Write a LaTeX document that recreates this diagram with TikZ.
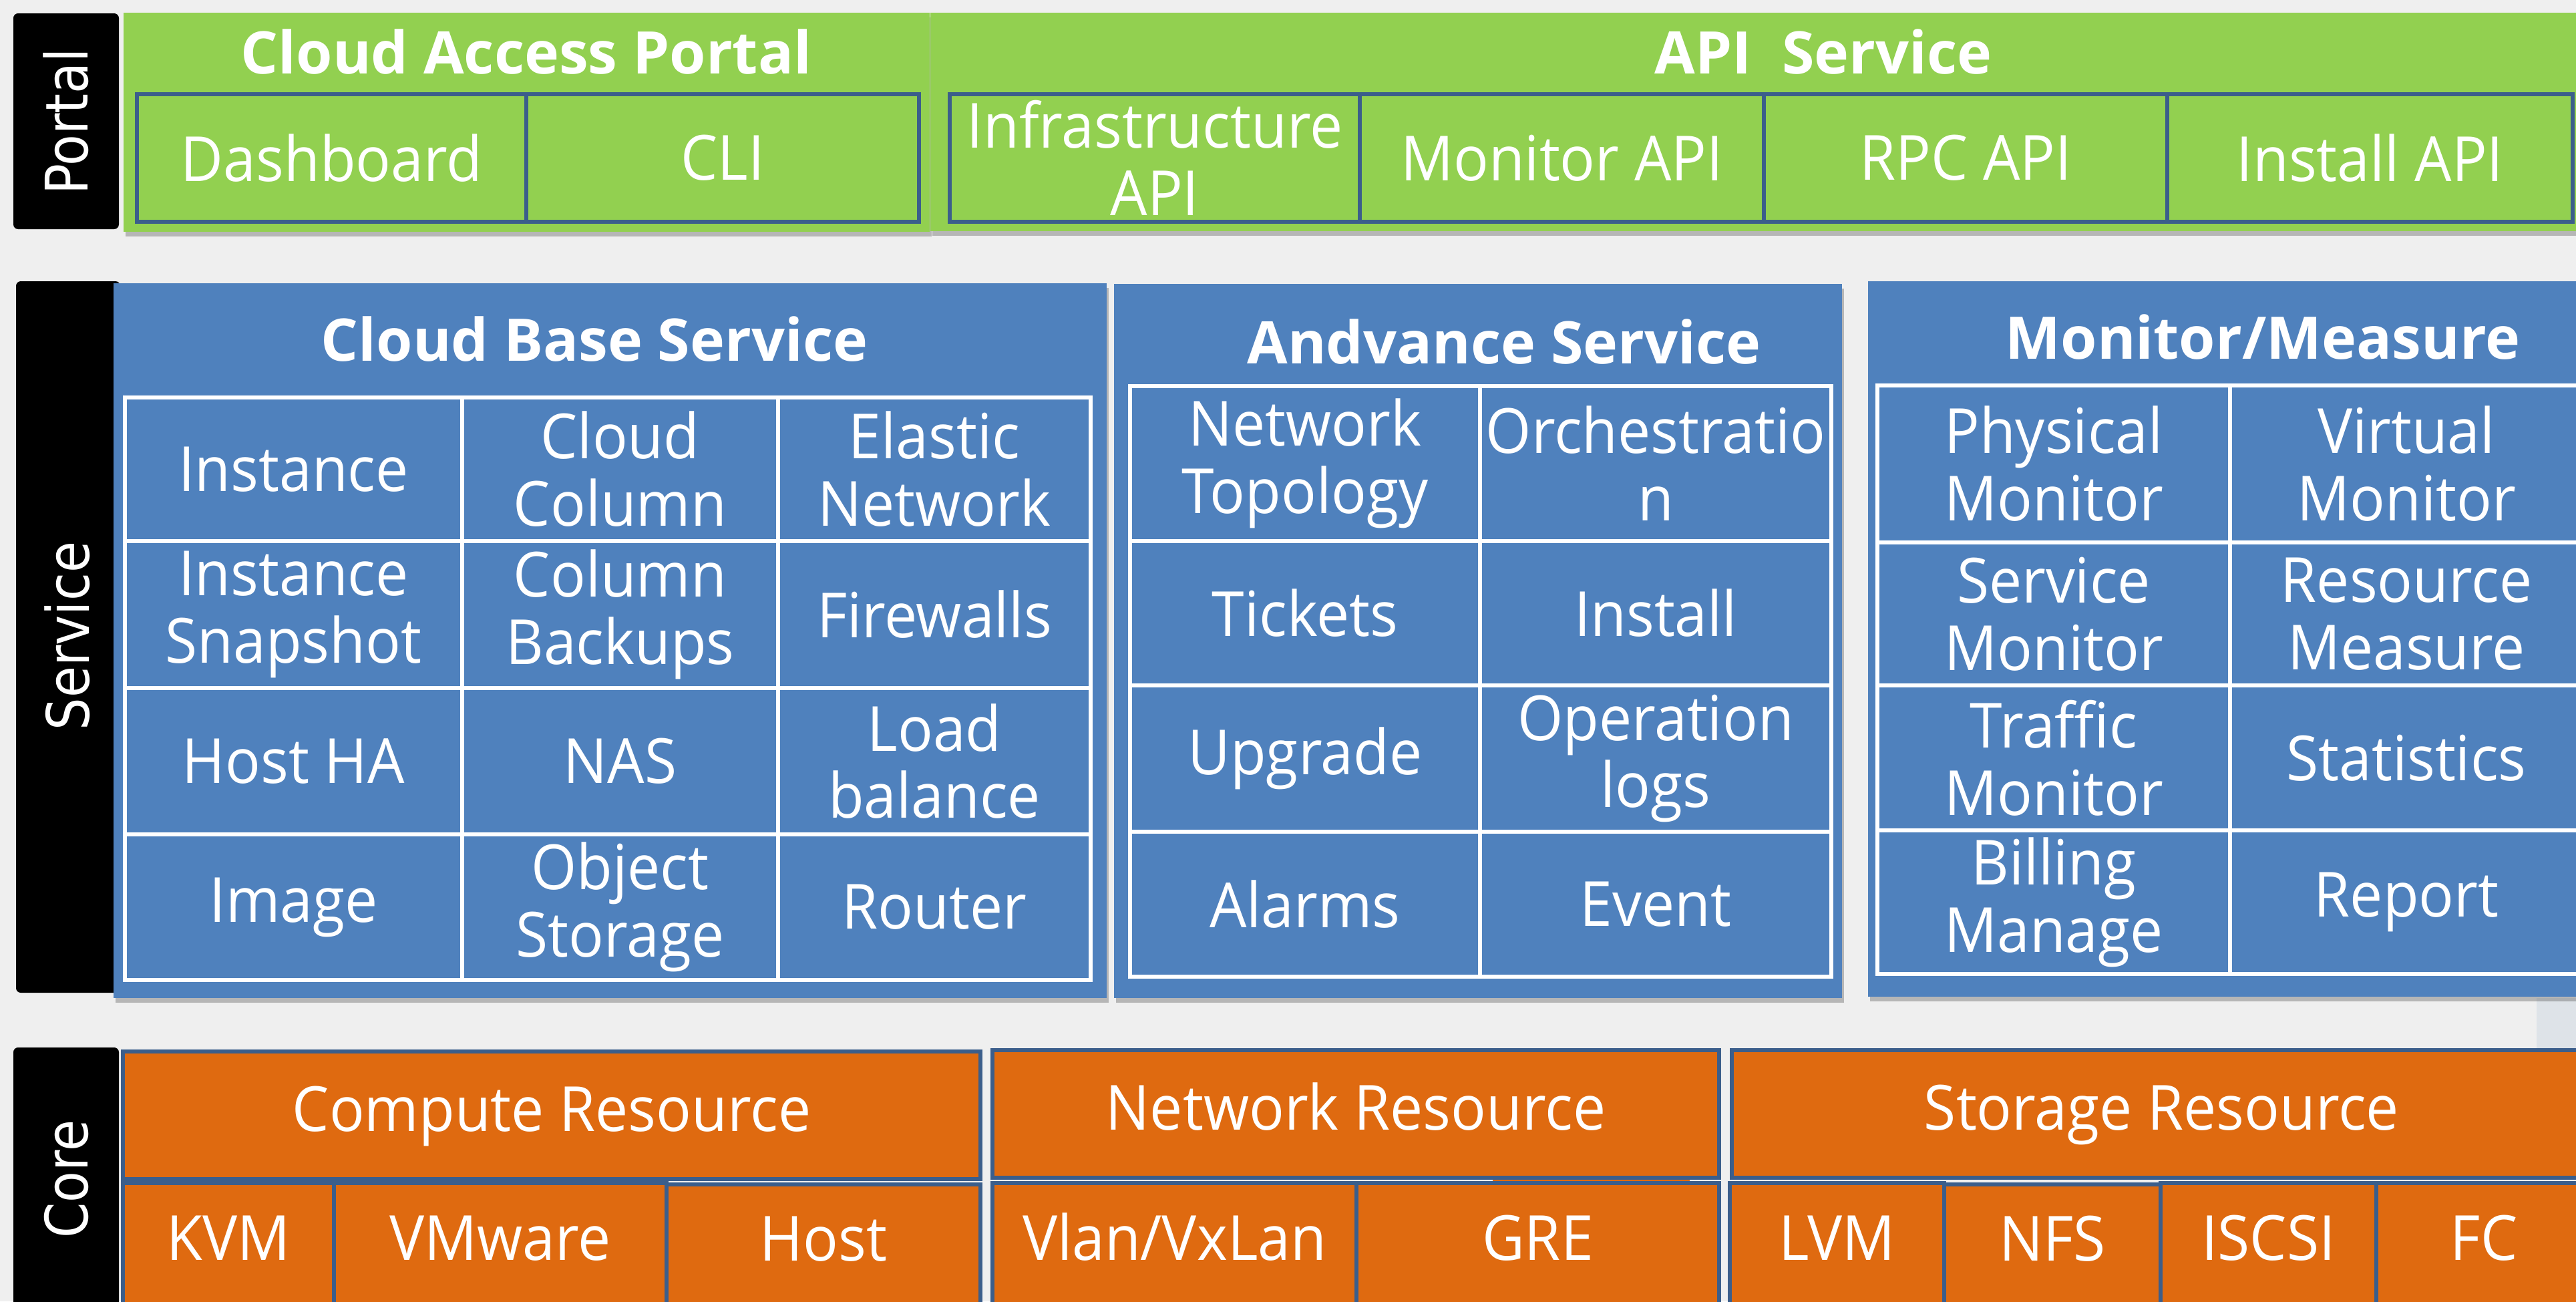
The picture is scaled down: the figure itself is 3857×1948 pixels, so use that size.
\documentclass[tikz,border=0pt]{standalone}
\usepackage{fontspec}
\setmainfont{Open Sans}
\newfontfamily\bodyfont{Open Sans}[FakeStretch=0.94]
\newfontfamily\sidefont{DejaVu Sans}[FakeStretch=0.87]
\usetikzlibrary{shadows}
\definecolor{bggray}{HTML}{EFEFEF}
\definecolor{pgreen}{HTML}{92D050}
\definecolor{sblue}{HTML}{4F81BD}
\definecolor{corange}{HTML}{DF6A10}
\definecolor{dkblue}{HTML}{3B5E8B}
\definecolor{strip}{HTML}{DEE3E8}
\newcommand\gcell[7]{%
  \node[#6, minimum width={(#4-#2)*0.01cm}, minimum height={(#5-#3)*0.01cm}] (#1) at ({(#2+#4)/2},{(#3+#5)/2}) {#7};}
\tikzset{
  boxshadow/.style={drop shadow={shadow xshift=0.03cm, shadow yshift=-0.07cm, opacity=0.35, fill=black!70}},
  sidelabel/.style={fill=black, rounded corners=2pt},
  sidetext/.style={text=white, rotate=90, font=\sidefont\fontsize{25}{30}\selectfont, inner sep=0pt},
  txt/.style={text=white, align=center, inner sep=0pt, font=\bodyfont\fontsize{26.5}{28.7}\selectfont},
  ttl/.style={text=white, anchor=base, inner sep=0pt, font=\bfseries\fontsize{25}{28.7}\selectfont},
  pcell/.style={txt, draw=dkblue, line width=1.7pt},
  scell/.style={txt, draw=white, line width=1.5pt},
  ccell/.style={txt, fill=corange, draw=dkblue, line width=1.7pt, text height=20pt, text depth=6.4pt},
}
\begin{document}
\begin{tikzpicture}[x=0.01cm,y=-0.01cm]
\useasboundingbox (0,0) rectangle (3857,1948);
\clip (0,0) rectangle (3857,1948);
\fill[bggray] (0,0) rectangle (3857,1948);
\fill[strip] (3798,1494) rectangle (3857,1572);

% ---------- Portal ----------
\fill[sidelabel] (20,20) rectangle (178,343);
\node[sidetext] (lportal) at (99,182) {Portal};
\fill[pgreen, boxshadow] (185,19) rectangle (1392,347);
\fill[pgreen, boxshadow] (1393,19) rectangle (3900,346);
\node[ttl] (tcap) at (788,110) {Cloud Access Portal};
\node[ttl] (tapi) at (2730,110) {API\ \ Service};
\gcell{dash}{205}{141}{788}{332}{pcell}{Dashboard}
\gcell{cli}{788}{141}{1376}{332}{pcell}{CLI}
\gcell{infra}{1422}{141}{2036}{332}{pcell}{Infrastructure\\API}
\gcell{monapi}{2036}{141}{2641}{332}{pcell}{Monitor API}
\gcell{rpc}{2641}{141}{3245}{332}{pcell}{RPC API}
\gcell{instapi}{3245}{141}{3852}{332}{pcell}{Install API}

% ---------- Service ----------
\fill[sidelabel] (24,421) rectangle (180,1486);
\node[sidetext] (lservice) at (101,952) {Service};
\fill[sblue, boxshadow] (170,424) rectangle (1657,1494);
\fill[sblue, boxshadow] (1668,425) rectangle (2758,1494);
\fill[sblue, boxshadow] (2797,421) rectangle (3900,1492);
\node[ttl] (tcbs) at (890,540) {Cloud Base Service};
\node[ttl] (tadv) at (2252,544) {Andvance Service};
\node[ttl] (tmon) at (3388,537) {Monitor/Measure};
% cloud base grid
\gcell{inst}{187}{595}{692}{810}{scell}{Instance}
\gcell{ccol}{692}{595}{1165}{810}{scell}{Cloud\\Column}
\gcell{enet}{1165}{595}{1633}{810}{scell}{Elastic\\Network}
\gcell{isnap}{187}{810}{692}{1030}{scell}{Instance\\Snapshot}
\gcell{cbak}{692}{810}{1165}{1030}{scell}{Column\\Backups}
\gcell{fw}{1165}{810}{1633}{1030}{scell}{Firewalls}
\gcell{hha}{187}{1030}{692}{1249}{scell}{Host HA}
\gcell{nas}{692}{1030}{1165}{1249}{scell}{NAS}
\gcell{lb}{1165}{1030}{1633}{1249}{scell}{Load\\balance}
\gcell{img}{187}{1249}{692}{1467}{scell}{Image}
\gcell{obj}{692}{1249}{1165}{1467}{scell}{Object\\Storage}
\gcell{rtr}{1165}{1249}{1633}{1467}{scell}{Router}
% advance grid
\gcell{ntop}{1692}{578}{2216}{810}{scell}{Network\\Topology}
\gcell{orch}{2216}{578}{2742}{810}{scell}{Orchestratio\\n}
\gcell{tick}{1692}{810}{2216}{1026}{scell}{Tickets}
\gcell{inst2}{2216}{810}{2742}{1026}{scell}{Install}
\gcell{upg}{1692}{1026}{2216}{1245}{scell}{Upgrade}
\gcell{olog}{2216}{1026}{2742}{1245}{scell}{Operation\\logs}
\gcell{alm}{1692}{1245}{2216}{1462}{scell}{Alarms}
\gcell{evt}{2216}{1245}{2742}{1462}{scell}{Event}
% monitor grid
\gcell{pmon}{2811}{577}{3339}{812}{scell}{Physical\\Monitor}
\gcell{vmon}{3339}{577}{3867}{812}{scell}{Virtual\\Monitor}
\gcell{smon}{2811}{812}{3339}{1026}{scell}{Service\\Monitor}
\gcell{rmeas}{3339}{812}{3867}{1026}{scell}{Resource\\Measure}
\gcell{tmon2}{2811}{1026}{3339}{1243}{scell}{Traffic\\Monitor}
\gcell{stat}{3339}{1026}{3867}{1243}{scell}{Statistics}
\gcell{bill}{2811}{1243}{3339}{1458}{scell}{Billing\\Manage}
\gcell{rep}{3339}{1243}{3867}{1458}{scell}{Report}

% ---------- Core ----------
\fill[sidelabel] (20,1568) rectangle (178,1990);
\node[sidetext] (lcore) at (99,1765) {Core};
\fill[corange] (2235,1760) rectangle (2530,1773);
\gcell{comp}{184}{1574}{1468}{1765}{ccell}{Compute Resource}
\gcell{netr}{1486}{1572}{2574}{1763}{ccell}{Network Resource}
\gcell{stor}{2593}{1572}{3880}{1763}{ccell}{Storage Resource}
\gcell{kvm}{184}{1771}{500}{1955}{ccell}{KVM}
\gcell{vmw}{500}{1771}{998}{1955}{ccell}{VMware}
\gcell{host}{998}{1773}{1468}{1955}{ccell}{Host}
\gcell{vlan}{1486}{1771}{2031}{1955}{ccell}{Vlan/VxLan}
\gcell{gre}{2031}{1771}{2574}{1955}{ccell}{GRE}
\gcell{lvm}{2590}{1771}{2911}{1955}{ccell}{LVM}
\gcell{nfs}{2911}{1773}{3235}{1955}{ccell}{NFS}
\gcell{iscsi}{3235}{1771}{3558}{1955}{ccell}{ISCSI}
\gcell{fc}{3558}{1771}{3880}{1955}{ccell}{FC}
\end{tikzpicture}
\end{document}
